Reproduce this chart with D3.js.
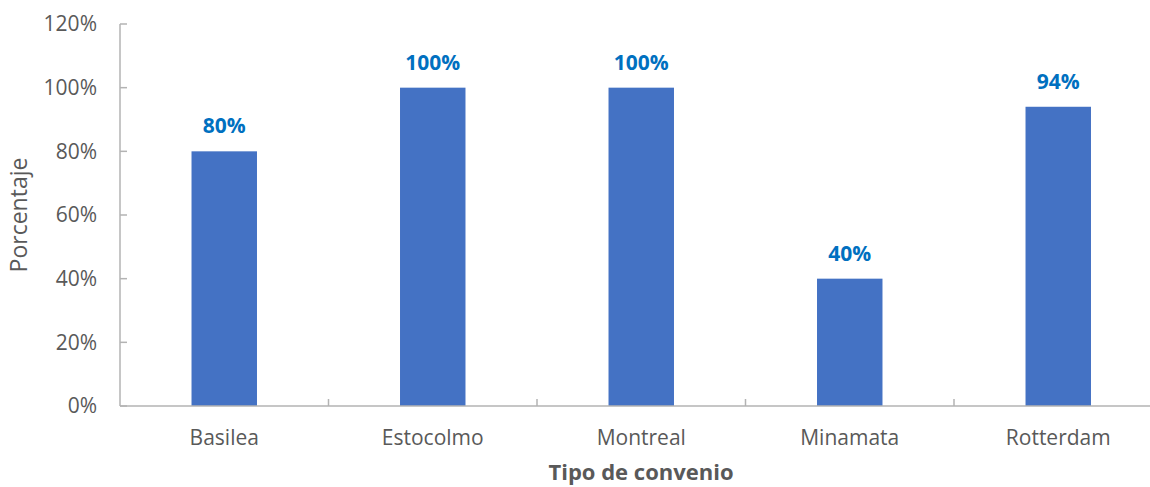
<!DOCTYPE html>
<html><head><meta charset="utf-8">
<script src="https://cdn.jsdelivr.net/npm/d3@7/dist/d3.min.js"></script>
<style>body{margin:0;background:#fff}svg{display:block}</style>
</head><body><svg id="c" width="1150" height="487"></svg>
<script>
const categories = ["Basilea","Estocolmo","Montreal","Minamata","Rotterdam"];
const values = [80,100,100,40,94];
const yTicks = [0,20,40,60,80,100,120];
const xTitle = "Tipo de convenio";
const yTitle = "Porcentaje";

const svg = d3.select("#c");
const font = "'Open Sans', sans-serif";
const axisColor = "#b3b3b3", textColor = "#595959";
const x = d3.scaleBand().domain(categories).range([120,1162.5]).paddingInner(0.686).paddingOuter(0.343);
const y = d3.scaleLinear().domain([0,120]).range([406,24]);
const step = x.step();

// bars
svg.selectAll("rect.bar").data(values).join("rect")
  .attr("x",(d,i)=>x(categories[i])).attr("width",x.bandwidth())
  .attr("y",d=>y(d)).attr("height",d=>y(0)-y(d)).attr("fill","#4472C4");

// y axis
const ya = svg.append("g");
ya.append("line").attr("x1",120).attr("x2",120).attr("y1",y(120)).attr("y2",y(0)).attr("stroke",axisColor).attr("stroke-width",1.5);
ya.selectAll("line.t").data(yTicks).join("line").attr("class","t")
  .attr("x1",120).attr("x2",127).attr("y1",d=>y(d)).attr("y2",d=>y(d)).attr("stroke",axisColor).attr("stroke-width",1.5);
ya.selectAll("text").data(yTicks).join("text")
  .attr("x",97).attr("y",d=>y(d)).attr("dy","0.35em").attr("text-anchor","end")
  .attr("font-family",font).attr("font-size",21).attr("fill",textColor).text(d=>d+"%");

// x axis
const xa = svg.append("g");
xa.append("line").attr("x1",120).attr("x2",1162.5).attr("y1",y(0)).attr("y2",y(0)).attr("stroke",axisColor).attr("stroke-width",1.5);
xa.selectAll("line.t").data(categories.slice(1)).join("line").attr("class","t")
  .attr("x1",d=>x(d)-x.paddingInner()*step/2).attr("x2",d=>x(d)-x.paddingInner()*step/2)
  .attr("y1",y(0)).attr("y2",y(0)-7).attr("stroke",axisColor).attr("stroke-width",1.5);
xa.selectAll("text").data(categories).join("text")
  .attr("x",d=>x(d)+x.bandwidth()/2).attr("y",445).attr("text-anchor","middle")
  .attr("font-family",font).attr("font-size",21).attr("fill",textColor).text(d=>d);

// data labels
svg.selectAll("text.lbl").data(values).join("text").attr("class","lbl")
  .attr("x",(d,i)=>x(categories[i])+x.bandwidth()/2).attr("y",d=>y(d)-18).attr("text-anchor","middle")
  .attr("font-family",font).attr("font-weight","bold").attr("font-size",21).attr("fill","#0070C0").text(d=>d+"%");

// titles
svg.append("text").attr("x",641).attr("y",480).attr("text-anchor","middle")
  .attr("font-family",font).attr("font-weight","bold").attr("font-size",22).attr("fill",textColor).text(xTitle);
svg.append("text").attr("transform","translate(27,215) rotate(-90)").attr("text-anchor","middle")
  .attr("font-family",font).attr("font-size",23).attr("fill",textColor).text(yTitle);
</script></body></html>
